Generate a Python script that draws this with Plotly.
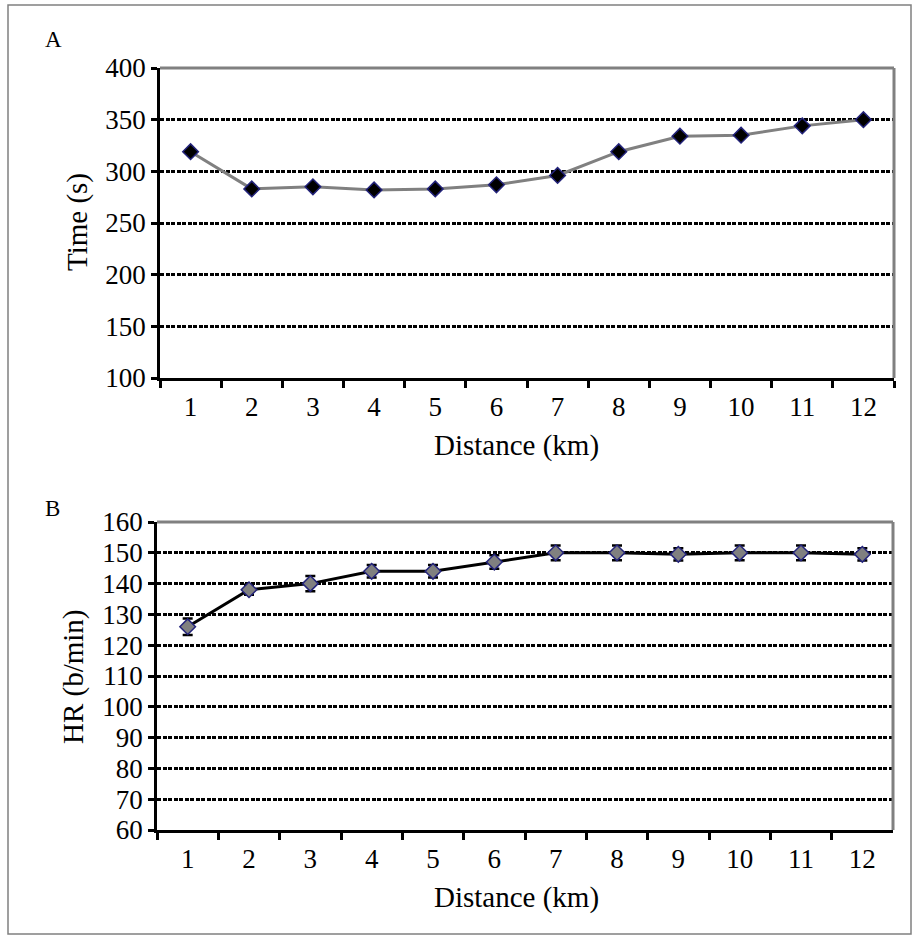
import plotly.graph_objects as go

W, H = 919, 940

distance = [str(i) for i in range(1, 13)]
time_s = [319, 283, 285, 282, 283, 287, 296, 319, 334, 335, 344, 350]
time_err = [7, 7, 7, 7, 7, 7, 7, 7, 7, 7, 7, 7]
hr = [126, 138, 140, 144, 144, 147, 150, 150, 149.5, 150, 150, 149.5]
hr_err = [2.7, 1.6, 2.5, 2.0, 2.0, 2.2, 2.4, 2.4, 2.0, 2.4, 2.4, 2.0]

time_ticks = [100, 150, 200, 250, 300, 350, 400]
hr_ticks = list(range(60, 161, 10))

FONT = "Liberation Serif"
NAVY = "#23237a"
GRAY = "#808080"

def px(x):
    return x / W

def py(y):
    return 1 - y / H

fig = go.Figure()

fig.add_trace(go.Scatter(
    x=distance, y=time_s, xaxis="x", yaxis="y", mode="lines+markers",
    line=dict(color=GRAY, width=3),
    marker=dict(symbol="diamond", size=12, color="black", line=dict(color=NAVY, width=1.5)),
    error_y=dict(type="data", array=time_err, color=NAVY, thickness=1, width=0),
    showlegend=False,
))

fig.add_trace(go.Scatter(
    x=distance, y=hr, xaxis="x2", yaxis="y2", mode="lines+markers",
    line=dict(color="black", width=3),
    marker=dict(symbol="diamond", size=12, color=GRAY, line=dict(color=NAVY, width=1.5)),
    error_y=dict(type="data", array=hr_err, color="black", thickness=2.5, width=5),
    showlegend=False,
))

common_x = dict(
    type="category", range=[-0.5, 11.5], tickson="boundaries",
    showgrid=False, showline=True, linecolor="black", linewidth=2.5,
    ticks="outside", ticklen=7, tickwidth=2.5, tickcolor="black",
    tickfont=dict(family=FONT, size=27, color="black"), ticklabelstandoff=3,
    zeroline=False, fixedrange=True, automargin=False,
)
common_y = dict(
    showgrid=True, gridcolor="black", gridwidth=2.5, griddash="4px,1.5px",
    showline=True, linecolor="black", linewidth=2.5,
    ticks="outside", ticklen=6, tickwidth=2.5, tickcolor="black",
    tickfont=dict(family=FONT, size=27, color="black"),
    zeroline=False, fixedrange=True, automargin=False,
)

fig.update_layout(
    width=W, height=H,
    margin=dict(l=0, r=0, t=0, b=0, pad=0, autoexpand=False),
    paper_bgcolor="white", plot_bgcolor="white",
    xaxis=dict(common_x, domain=[px(160), px(894)], anchor="y"),
    yaxis=dict(common_y, domain=[py(378), py(68)], range=[100, 400],
               tickvals=time_ticks, anchor="x"),
    xaxis2=dict(common_x, domain=[px(157), px(893)], anchor="y2"),
    yaxis2=dict(common_y, domain=[py(830), py(522)], range=[60, 160],
                tickvals=hr_ticks, anchor="x2"),
)

shapes = []
# gray top and right frame lines for each panel
for xr, yr in (("x domain", "y domain"), ("x2 domain", "y2 domain")):
    shapes.append(dict(type="line", xref=xr, yref=yr, x0=0, x1=1, y0=1, y1=1,
                       line=dict(color=GRAY, width=3), layer="above"))
    shapes.append(dict(type="line", xref=xr, yref=yr, x0=1, x1=1, y0=0, y1=1,
                       line=dict(color=GRAY, width=3), layer="above"))
# outer border
shapes.append(dict(type="rect", xref="paper", yref="paper",
                   x0=px(8), x1=px(911), y0=py(934), y1=py(5),
                   line=dict(color=GRAY, width=1.5), fillcolor="rgba(0,0,0,0)"))
fig.update_layout(shapes=shapes)

ann = []
def text(s, x, y, size, angle=0):
    ann.append(dict(text=s, x=px(x), y=py(y), xref="paper", yref="paper",
                    showarrow=False, xanchor="center", yanchor="middle",
                    textangle=angle, font=dict(family=FONT, size=size, color="black")))

text("A", 53, 40, 23)
text("B", 52, 508, 23)
text("Time (s)", 77, 222, 29, -90)
text("HR (b/min)", 73, 677, 29, -90)
text("Distance (km)", 516, 446, 29)
text("Distance (km)", 516, 897, 29)
fig.update_layout(annotations=ann)

fig.write_html(
    "out.html",
    config={"displayModeBar": False},
    post_script="document.body.style.margin='0px';document.body.style.overflow='hidden';",
)
